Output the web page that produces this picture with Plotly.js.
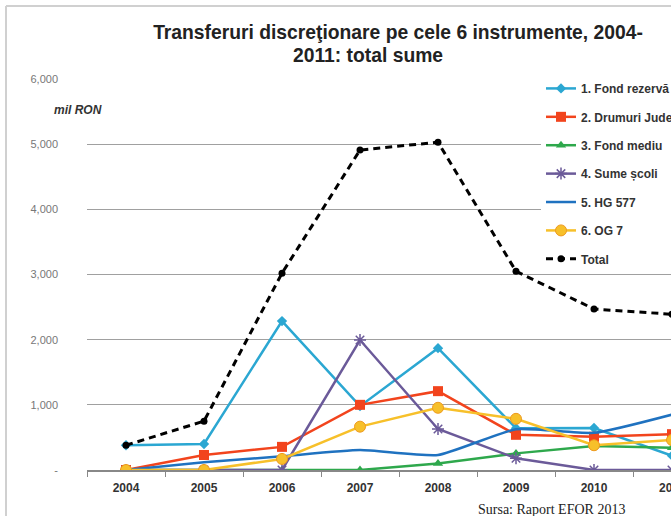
<!DOCTYPE html>
<html>
<head>
<meta charset="utf-8">
<script src="https://cdn.plot.ly/plotly-3.0.1.min.js"></script>
<style>
html,body{margin:0;padding:0;overflow:hidden;background:#fff;width:671px;height:516px;}
#chart{width:740px;height:516px;}
</style>
</head>
<body>
<div id="chart"></div>
<script>
// ---- data ----
var years = ['2004','2005','2006','2007','2008','2009','2010','2011'];
var fondRezerva   = [380, 400, 2285, 980, 1870, 640, 645, 220];
var drumuri       = [0, 230, 355, 1000, 1210, 540, 510, 550];
var fondMediu     = [0, 0, 0, 0, 100, 255, 370, 340];
var sumeScoli     = [0, 0, 0, 1995, 630, 180, 0, 0];
var hg577         = [0, 120, 210, 305, 230, 625, 570, 850];
var og7           = [0, 0, 170, 665, 955, 785, 380, 460];
var total         = [380, 750, 3020, 4910, 5030, 3050, 2470, 2390];
var seriesNames   = ['1. Fond rezervă', '2. Drumuri Județene', '3. Fond mediu', '4. Sume școli', '5. HG 577', '6. OG 7', 'Total'];
var yTickVals     = [0, 1000, 2000, 3000, 4000, 5000, 6000];
var yTickText     = ['-', '1,000', '2,000', '3,000', '4,000', '5,000', '6,000'];

var lw = 2.5;
var traces = [
  {x: years, y: fondRezerva, name: seriesNames[0], mode: 'lines+markers',
   line: {color: '#2BA7D2', width: lw}, marker: {symbol: 'diamond', size: 8, color: '#2BA7D2'}},
  {x: years, y: drumuri, name: seriesNames[1], mode: 'lines+markers',
   line: {color: '#F2441D', width: lw}, marker: {symbol: 'square', size: 10, color: '#F2441D'}},
  {x: years, y: fondMediu, name: seriesNames[2], mode: 'lines+markers',
   line: {color: '#2EA84C', width: lw}, marker: {symbol: 'triangle-up', size: 9, color: '#2EA84C'}},
  {x: years, y: sumeScoli, name: seriesNames[3], mode: 'lines+markers',
   line: {color: '#6B5A99', width: lw}, marker: {symbol: 'asterisk-open', size: 10, color: '#6B5A99', line: {color: '#6B5A99', width: 1.5}}},
  {x: years, y: hg577, name: seriesNames[4], mode: 'lines',
   line: {color: '#1F72C0', width: lw, shape: 'spline', smoothing: 0.5}},
  {x: years, y: og7, name: seriesNames[5], mode: 'lines+markers',
   line: {color: '#F7C02A', width: lw}, marker: {symbol: 'circle', size: 11, color: '#F7C02A', line: {color: '#EE9A1E', width: 1}}},
  {x: years, y: total, name: seriesNames[6], mode: 'lines+markers',
   line: {color: '#000000', width: 3, dash: '7px,5px'}, marker: {symbol: 'circle', size: 7, color: '#000000'}}
];
traces.forEach(function(t, i){ t.legendgroup = 'g' + i; });

var L = 87, T = 79, W = 740, H = 516;
var layout = {
  width: W, height: H,
  margin: {l: L, r: 29, t: T, b: 46},
  paper_bgcolor: '#ffffff', plot_bgcolor: '#ffffff',
  font: {family: 'Liberation Sans, Arial, sans-serif'},
  title: {text: '<b>Transferuri discreţionare pe cele 6 instrumente, 2004-</b>',
          font: {size: 19.3, color: '#222'}, x: 398 / W, xanchor: 'center', y: 1 - 32 / H, yanchor: 'middle'},
  xaxis: {type: 'category', range: [-0.5, 7.5], showgrid: false, zeroline: false,
          showline: true, linecolor: '#888', linewidth: 1.5,
          ticks: 'outside', tickson: 'boundaries', ticklen: 5, tickcolor: '#888',
          ticklabelstandoff: 6,
          tickfont: {size: 12, color: '#333', family: 'Liberation Sans, Arial, sans-serif', weight: 'bold'}},
  yaxis: {range: [0, 6000], tickvals: yTickVals, ticktext: yTickText, showgrid: true,
          gridcolor: '#a0a0a0', gridwidth: 1, zeroline: false, showline: false, ticks: '',
          ticklabelstandoff: 28, tickfont: {size: 11, color: '#777'}},
  showlegend: true,
  legend: {x: (541 - L) / 624, xanchor: 'left', y: 1.013, yanchor: 'top',
           bgcolor: '#ffffff', borderwidth: 0, traceorder: 'grouped', tracegroupgap: 9.4,
           font: {size: 12, color: '#333', weight: 'bold'}},
  annotations: [
    {text: '<b>2011: total sume</b>', xref: 'paper', yref: 'paper',
     x: (368 - L) / 624, y: (470 - 55) / 391, xanchor: 'center', yanchor: 'middle',
     showarrow: false, font: {size: 19.3, color: '#222'}},
    {text: '<b><i>mil RON</i></b>', xref: 'paper', yref: 'paper',
     x: (78 - L) / 624, y: (470 - 110) / 391, xanchor: 'center', yanchor: 'middle',
     showarrow: false, font: {size: 12, color: '#333'}},
    {text: 'Sursa: Raport EFOR 2013', xref: 'paper', yref: 'paper',
     x: (551 - L) / 624, y: (470 - 509) / 391, xanchor: 'center', yanchor: 'middle',
     showarrow: false, font: {size: 14, color: '#222', family: 'Liberation Serif, Times New Roman, serif'}}
  ],
  shapes: [
    {type: 'line', xref: 'paper', yref: 'paper', x0: (6 - L) / 624, x1: (6 - L) / 624,
     y0: (470 - 6) / 391, y1: (470 - 520) / 391, line: {color: '#d0d0d0', width: 2}},
    {type: 'line', xref: 'paper', yref: 'paper', x0: (6 - L) / 624, x1: (740 - L) / 624,
     y0: (470 - 6) / 391, y1: (470 - 6) / 391, line: {color: '#d0d0d0', width: 2}}
  ]
};

Plotly.newPlot('chart', traces, layout, {displayModeBar: false, responsive: false});
</script>
</body>
</html>
